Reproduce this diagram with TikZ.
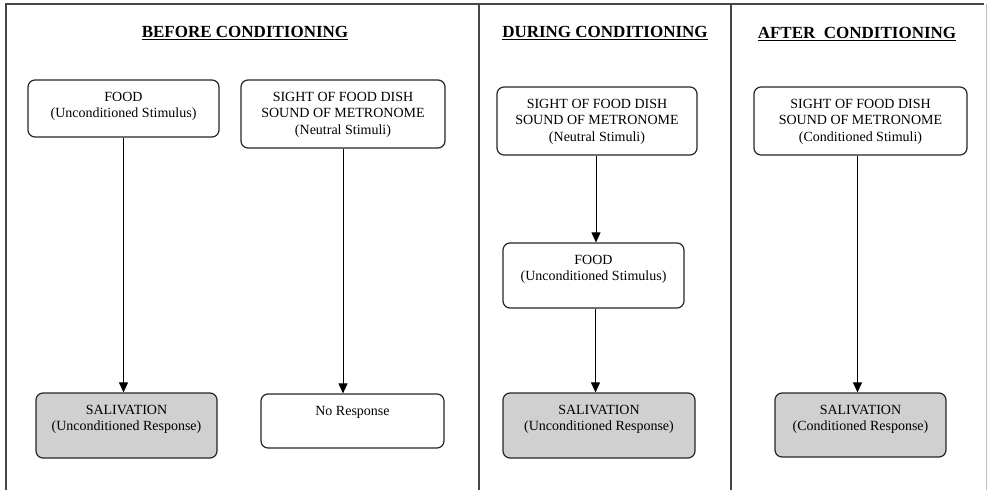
\documentclass[tikz,border=0pt]{standalone}
\usepackage{fontspec}
\setmainfont{Liberation Serif}
\usetikzlibrary{arrows.meta}
\definecolor{framegray}{RGB}{70,70,70}
\definecolor{boxfill}{RGB}{208,208,208}
\tikzset{
  frameline/.style={draw=framegray, line width=1.3pt},
  stagebox/.style={draw=black!85, line width=1.2pt, rounded corners=7pt, fill=white},
  shaded/.style={fill=boxfill},
  boxtext/.style={anchor=north, inner sep=0pt, align=center, font=\fontsize{14}{16.7}\selectfont},
  heading/.style={anchor=base, inner sep=0pt, font=\fontsize{17}{20}\selectfont\bfseries},
  flow/.style={draw=black, line width=1pt, -{Triangle[width=9pt,length=10pt]}}
}
\newcommand{\stage}[7][]{%
  % #1 extra style, #2 name, #3 x1, #4 x2, #5 y1, #6 y2, #7 text
  \node[stagebox,#1, minimum width={(#4-#3)*1pt}, minimum height={(#6-#5)*1pt}, inner sep=0pt]
     (#2) at ({(#3+#4)/2}, {-(#5+#6)/2}) {};
  \node[boxtext] (#2-t) at ([yshift=-12.4pt]#2.north) {#7};
}
\begin{document}
\begin{tikzpicture}[x=1pt,y=1pt]
\useasboundingbox (0,0) rectangle (989,-490);
% frame
\coordinate (tl) at (6,-4);
\coordinate (tr) at (984,-4);
\draw[frameline] (6,-490) -- (tl) -- (tr);
\draw[draw=black!25, line width=1pt] (986,-4) -- (986,-490);
\draw[frameline] (479,-4) -- (479,-490);
\draw[frameline] (731,-4) -- (731,-490);
% headings
\node[heading] (h1) at (245,-37.7) {BEFORE CONDITIONING};
\node[heading] (h2) at (605,-37.7) {DURING CONDITIONING};
\node[heading] (h3) at (857,-38.7) {AFTER\ \ CONDITIONING};
\foreach \h in {h1,h2,h3}{
  \draw[line width=1pt] ([yshift=-2.2pt]\h.base west) -- ([yshift=-2.2pt]\h.base east);
}
% before
\stage{bfood}{28}{219}{80}{137}{FOOD\\(Unconditioned Stimulus)}
\stage{bsight}{241}{445}{80}{148}{SIGHT OF FOOD DISH\\SOUND OF METRONOME\\(Neutral Stimuli)}
\stage[shaded]{bsal}{36}{217}{393}{458}{SALIVATION\\(Unconditioned Response)}
\stage{bno}{261}{444}{394}{448}{No Response}
% during
\stage{dsight}{497}{697}{87}{155}{SIGHT OF FOOD DISH\\SOUND OF METRONOME\\(Neutral Stimuli)}
\stage{dfood}{503}{684}{243}{308}{FOOD\\(Unconditioned Stimulus)}
\stage[shaded]{dsal}{503}{695}{393}{458}{SALIVATION\\(Unconditioned Response)}
% after
\stage{asight}{754}{967}{87}{155}{SIGHT OF FOOD DISH\\SOUND OF METRONOME\\(Conditioned Stimuli)}
\stage[shaded]{asal}{775}{946}{393}{457}{SALIVATION\\(Conditioned Response)}
% arrows
\draw[flow] (bfood.south) -- (bfood.south |- bsal.north);
\draw[flow] (bsight.south) -- (bsight.south |- bno.north);
\draw[flow] ([xshift=-1pt]dsight.south) -- ([xshift=-1pt]dsight.south |- dfood.north);
\draw[flow] ([xshift=2pt]dfood.south) -- ([xshift=2pt]dfood.south |- dsal.north);
\draw[flow] ([xshift=-3pt]asight.south) -- ([xshift=-3pt]asight.south |- asal.north);
\end{tikzpicture}
\end{document}
